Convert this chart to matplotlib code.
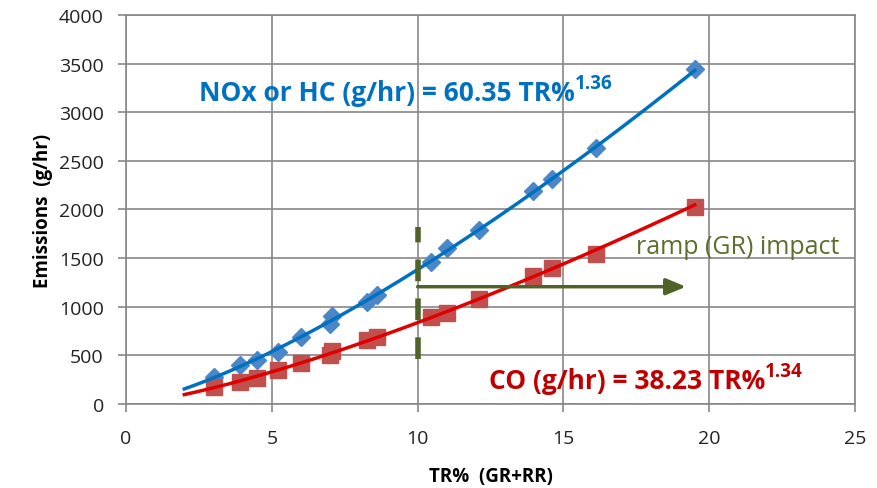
import numpy as np
import matplotlib
matplotlib.use("Agg")
import matplotlib.pyplot as plt

plt.rcParams['font.family'] = ['Open Sans', 'DejaVu Sans']

# TR% values
tr = [3.0, 3.9, 4.5, 5.2, 6.0, 7.0, 7.05, 8.25, 8.6, 10.45, 11.0, 12.1, 13.95, 14.6, 16.1, 19.5]
nox_hc = [275, 400, 455, 530, 690, 820, 900, 1050, 1125, 1465, 1600, 1785, 2195, 2310, 2630, 3445]
co = [170, 230, 270, 350, 425, 500, 540, 660, 685, 895, 940, 1075, 1320, 1395, 1540, 2025]

# power trendlines as printed on the chart
nox_a, nox_b = 60.35, 1.36
co_a, co_b = 38.23, 1.34

grid_c = '#878787'

fig = plt.figure(figsize=(8.77, 4.89), dpi=100)
ax = fig.add_axes([0.1437, 0.1718, 0.8313, 0.7955])

ax.set_xlim(0, 25)
ax.set_ylim(0, 4000)
ax.set_xticks(range(0, 26, 5))
ax.set_yticks(range(0, 4001, 500))
ax.grid(True, color=grid_c, lw=1.2)
ax.set_axisbelow(True)
for s in ax.spines.values():
    s.set_color(grid_c)
    s.set_linewidth(1.2)
ax.tick_params(length=6, width=1.2, color=grid_c, labelsize=14, labelcolor='#222222')
ax.tick_params(axis='x', pad=12)
ax.tick_params(axis='y', pad=10)

xf = np.linspace(2, 19.5, 200)
ax.plot(tr, nox_hc, ls='none', marker='D', ms=9, color='#4A86C8', zorder=3)
ax.plot(tr, co, ls='none', marker='s', ms=11, color='#C0504D', zorder=3)
ax.plot(xf, nox_a * xf ** nox_b, color='#0070C0', lw=2.5, zorder=4)
ax.plot(xf, co_a * xf ** co_b, color='#E00000', lw=2.5, zorder=4)

# ramp impact marker
green = '#4F6228'
ax.plot([10, 10], [460, 1815], color=green, lw=4, dashes=(3.9, 3.1), zorder=5)
ax.annotate('', xy=(19.2, 1206), xytext=(10, 1206),
            arrowprops=dict(arrowstyle='-|>,head_length=1.2,head_width=0.5', color=green, lw=2.5,
                            shrinkA=0, shrinkB=0), zorder=5)
ax.text(17.5, 1615, 'ramp (GR) impact', color='#5C6E2C', fontsize=18, va='center', ha='left')

t1 = ax.text(2.5, 3200, 'NOx or HC (g/hr) = 60.35 TR%', color='#0070C0', fontsize=19,
             fontweight='bold', va='center', ha='left')
ax.annotate('1.36', xy=(1.0, 0.48), xycoords=t1, color='#0070C0', fontsize=13.5,
            fontweight='bold', va='bottom', ha='left')
t2 = ax.text(12.45, 245, 'CO (g/hr) = 38.23 TR%', color='#C00000', fontsize=19,
             fontweight='bold', va='center', ha='left')
ax.annotate('1.34', xy=(1.0, 0.48), xycoords=t2, color='#C00000', fontsize=13.5,
            fontweight='bold', va='bottom', ha='left')

ax.set_xlabel('TR%  (GR+RR)', fontsize=13.5, fontweight='bold', labelpad=14)
ax.set_ylabel('Emissions  (g/hr)', fontsize=13.5, fontweight='bold', labelpad=4)

fig.savefig('out.png', dpi=100)
